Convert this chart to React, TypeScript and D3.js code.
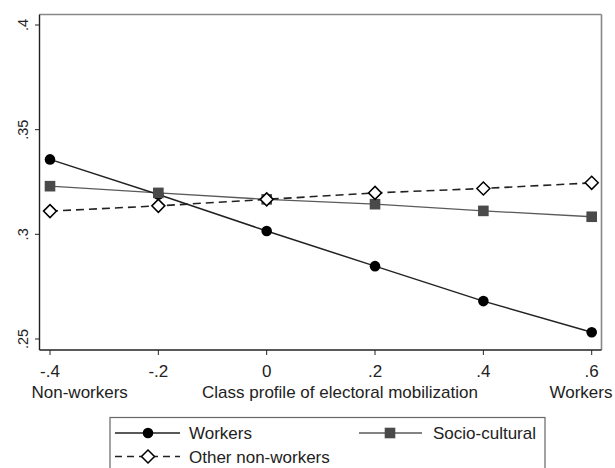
import React from "react";
import * as d3 from "d3";

const xValues = [-0.4, -0.2, 0, 0.2, 0.4, 0.6];
const workers = [0.3358, 0.319, 0.3016, 0.2848, 0.2681, 0.2532];
const socioCultural = [0.323, 0.3198, 0.3167, 0.3144, 0.3112, 0.3084];
const otherNonWorkers = [0.3111, 0.3136, 0.3167, 0.3198, 0.3219, 0.3246];
const xTicks = [-0.4, -0.2, 0, 0.2, 0.4, 0.6];
const xTickLabels = ["-.4", "-.2", "0", ".2", ".4", ".6"];
const yTicks = [0.25, 0.3, 0.35, 0.4];
const yTickLabels = [".25", ".3", ".35", ".4"];
const seriesNames = ["Workers", "Socio-cultural", "Other non-workers"];

const FONT = "'Liberation Sans', Arial, sans-serif";

export default function App() {
  const W = 615, H = 468;
  const left = 39.5, right = 601.5, top = 14.5, bottom = 350;
  const x = d3.scaleLinear().domain([-0.4, 0.6]).range([50, 591.7]);
  const y = d3.scaleLinear().domain([0.25, 0.4]).range([339, 25]);
  const line = d3.line<number>().x((_, i) => x(xValues[i])).y((d) => y(d));

  const circle = (cx: number, cy: number, k: string) => (
    <circle key={k} cx={cx} cy={cy} r={5.3} fill="#000" />
  );
  const square = (cx: number, cy: number, k: string) => (
    <rect key={k} x={cx - 5.3} y={cy - 5.3} width={10.6} height={10.6} fill="#4a4a4a" />
  );
  const diamond = (cx: number, cy: number, k: string) => (
    <path key={k} d={`M${cx},${cy - 6.5}L${cx + 6.5},${cy}L${cx},${cy + 6.5}L${cx - 6.5},${cy}Z`} fill="#fff" stroke="#000" strokeWidth={1.5} />
  );

  return (
    <svg width={W} height={H} style={{ position: "absolute", left: 0, top: 0, background: "#fff" }} fontFamily={FONT}>
      <rect x={0} y={0} width={W} height={H} fill="#fff" />
      {/* frame */}
      <line x1={left} y1={top} x2={right} y2={top} stroke="#888" strokeWidth={1.6} />
      <line x1={right} y1={top} x2={right} y2={bottom} stroke="#888" strokeWidth={1.6} />
      <line x1={left} y1={top} x2={left} y2={bottom} stroke="#222" strokeWidth={1.4} />
      <line x1={left} y1={bottom} x2={right} y2={bottom} stroke="#222" strokeWidth={1.4} />
      {/* y axis */}
      {yTicks.map((t, i) => (
        <g key={"y" + i}>
          <line x1={left - 4.5} x2={left} y1={y(t)} y2={y(t)} stroke="#222" strokeWidth={1} />
          <text transform={`translate(${27.5},${y(t)}) rotate(-90)`} textAnchor="middle" fontSize={14.5} fill="#222">
            {yTickLabels[i]}
          </text>
        </g>
      ))}
      {/* x axis */}
      {xTicks.map((t, i) => (
        <g key={"x" + i}>
          <line x1={x(t)} x2={x(t)} y1={bottom} y2={bottom + 5} stroke="#222" strokeWidth={1} />
          <text x={x(t)} y={376.5} textAnchor="middle" fontSize={17} fill="#222">
            {xTickLabels[i]}
          </text>
        </g>
      ))}
      <text x={79.7} y={398} textAnchor="middle" fontSize={17} fill="#222">Non-workers</text>
      <text x={340} y={398} textAnchor="middle" fontSize={17} fill="#222">Class profile of electoral mobilization</text>
      <text x={581} y={398} textAnchor="middle" fontSize={17} fill="#222">Workers</text>

      {/* series */}
      <path d={line(socioCultural) || ""} fill="none" stroke="#5a5a5a" strokeWidth={1.3} />
      <path d={line(otherNonWorkers) || ""} fill="none" stroke="#222" strokeWidth={1.6} strokeDasharray="8,5" />
      <path d={line(workers) || ""} fill="none" stroke="#222" strokeWidth={1.5} />
      {workers.map((v, i) => circle(x(xValues[i]), y(v), "w" + i))}
      {socioCultural.map((v, i) => square(x(xValues[i]), y(v), "s" + i))}
      {otherNonWorkers.map((v, i) => diamond(x(xValues[i]), y(v), "o" + i))}

      {/* legend */}
      <rect x={110} y={417.5} width={435} height={60} fill="#fff" stroke="#666" strokeWidth={1.2} />
      <line x1={115} x2={180} y1={433} y2={433} stroke="#222" strokeWidth={1.5} />
      {circle(148, 433, "lw")}
      <text x={189} y={439} fontSize={17} fill="#222">{seriesNames[0]}</text>
      <line x1={359} x2={422} y1={433} y2={433} stroke="#5a5a5a" strokeWidth={1.3} />
      {square(390, 433, "ls")}
      <text x={433} y={439} fontSize={17} fill="#222">{seriesNames[1]}</text>
      <line x1={115} x2={180} y1={456.5} y2={456.5} stroke="#222" strokeWidth={1.6} strokeDasharray="7,5" />
      {diamond(148, 456.5, "lo")}
      <text x={189} y={462.5} fontSize={17} fill="#222">{seriesNames[2]}</text>
    </svg>
  );
}
